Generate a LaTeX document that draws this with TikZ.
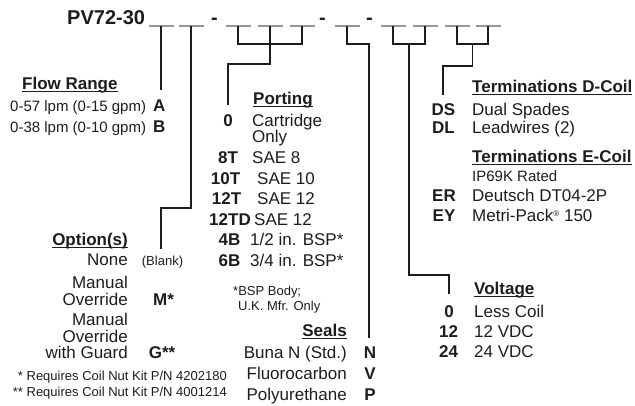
\documentclass[tikz,border=0pt]{standalone}
\usepackage{fontspec}
\setmainfont{Liberation Sans}
\definecolor{ink}{RGB}{30,28,28}
\definecolor{blankgray}{RGB}{150,150,150}
\newcommand{\ul}[1]{\setbox0\hbox{#1}\rlap{\rule[-2.8pt]{\wd0}{1.2pt}}\box0}
\newcommand{\regmark}{\raisebox{5.5pt}{\fontsize{8}{8}\selectfont ®}}
\tikzset{
  txt/.style={inner sep=0pt, text=ink, font=\fontsize{17}{20}\selectfont},
  code/.style={txt, font=\fontsize{17}{20}\selectfont\bfseries},
  head/.style={code},
  small/.style={txt, font=\fontsize{13}{15}\selectfont},
  mid/.style={txt, font=\fontsize{15}{17}\selectfont},
  wire/.style={draw=ink, line width=1.1pt},
  blank/.style={draw=blankgray, line width=1.2pt}
}
\begin{document}
\begin{tikzpicture}[x=1pt, y=-1pt]
\useasboundingbox (0,0) rectangle (635,405);

% part number
\node[code, font=\fontsize{20}{24}\selectfont\bfseries, anchor=base west] (pv) at (67,24) {PV72-30};
\node[code, font=\fontsize{20}{24}\selectfont\bfseries, anchor=base] (dash1) at (214.5,24) {-};
\node[code, font=\fontsize{20}{24}\selectfont\bfseries, anchor=base] (dash2) at (322.5,24) {-};
\node[code, font=\fontsize{20}{24}\selectfont\bfseries, anchor=base] (dash3) at (369.5,24) {-};
\foreach \i/\x in {1/161,2/191,3/238,4/270,5/302,6/347,7/393,8/425,9/457,10/488} {
  \coordinate (b\i) at (\x,26);
  \draw[blank] (\x-12.5,26) -- (\x+12.5,26);
}

% flow range
\node[head, anchor=base west] (flow) at (22,89) {\ul{Flow Range}};
\node[mid, anchor=base west] (flowa) at (10,111) {0-57 lpm (0-15 gpm)};
\node[code, anchor=base west] (A) at (153,111) {A};
\node[mid, anchor=base west] (flowb) at (10,132) {0-38 lpm (0-10 gpm)};
\node[code, anchor=base west] (B) at (153,132) {B};
\coordinate (flowend) at (161,90);
\draw[wire] (b1) -- (flowend);

% options
\node[head, anchor=base east] (opt) at (128,245) {\ul{Option(s)}};
\node[txt, anchor=base east] (none) at (128,265) {None};
\node[small, anchor=base] (blk) at (162.5,265) {(Blank)};
\node[txt, anchor=base east] (man1) at (128,288) {Manual};
\node[txt, anchor=base east] (ovr1) at (128,305) {Override};
\node[code, anchor=base] (M) at (163.5,305) {M*};
\node[txt, anchor=base east] (man2) at (128,325) {Manual};
\node[txt, anchor=base east] (ovr2) at (128,342) {Override};
\node[txt, anchor=base east] (guard) at (128,358) {with Guard};
\node[code, anchor=base] (G) at (162,358) {G**};
\node[small, anchor=base east] (note1) at (227,380) {* Requires Coil Nut Kit P/N 4202180};
\node[small, anchor=base east] (note2) at (227,396) {** Requires Coil Nut Kit P/N 4001214};
\coordinate (optbend) at (161,208);
\coordinate (optend) at (161,249);
\draw[wire] (b2) |- (optbend) -- (optend);

% porting
\node[head, anchor=base west] (port) at (253,104) {\ul{Porting}};
\node[code, anchor=base] (p0) at (228,126) {0};
\node[txt, anchor=base west] (cart) at (252,126) {Cartridge};
\node[txt, anchor=base west] (only) at (252,142) {Only};
\node[code, anchor=base] (p8T) at (228,163) {8T};
\node[txt, anchor=base west] (sae8) at (252,163) {SAE 8};
\node[code, anchor=base] (p10T) at (225.5,184) {10T};
\node[txt, anchor=base west] (sae10) at (257,184) {SAE 10};
\node[code, anchor=base] (p12T) at (226.5,204) {12T};
\node[txt, anchor=base west] (sae12) at (257,204) {SAE 12};
\node[code, anchor=base] (p12TD) at (230,225) {12TD};
\node[txt, anchor=base west] (sae12d) at (254,225) {SAE 12};
\node[code, anchor=base] (p4B) at (229.5,245.5) {4B};
\node[txt, anchor=base west] (bsp4) at (250,245.5) {1/2 in. BSP*};
\node[code, anchor=base] (p6B) at (229.5,266) {6B};
\node[txt, anchor=base west] (bsp6) at (250,266) {3/4 in. BSP*};
\node[small, anchor=base west] (bspa) at (233,295) {*BSP Body;};
\node[small, anchor=base west] (bspb) at (238,310) {U.K. Mfr. Only};
\coordinate (portend) at (228,105);
\draw[wire] (b3) -- ++(0,18) -| (b5);
\draw[wire] (b4) -- ++(0,38) -| (portend);

% seals
\node[head, anchor=base east] (seals) at (347,336) {\ul{Seals}};
\node[txt, anchor=base east] (buna) at (347,358) {Buna N (Std.)};
\node[code, anchor=base] (N) at (370,358) {N};
\node[txt, anchor=base east] (fluoro) at (347,379) {Fluorocarbon};
\node[code, anchor=base] (V) at (370,379) {V};
\node[txt, anchor=base east] (poly) at (347,400) {Polyurethane};
\node[code, anchor=base] (P) at (370,400) {P};
\coordinate (sealend) at (369,338);
\draw[wire] (b6) -- ++(0,18) -| (sealend);

% voltage
\node[head, anchor=base west] (volt) at (474,294) {\ul{Voltage}};
\node[code, anchor=base] (v0) at (449,317) {0};
\node[txt, anchor=base west] (less) at (474,317) {Less Coil};
\node[code, anchor=base] (v12) at (448.5,337) {12};
\node[txt, anchor=base west] (vdc12) at (474,337) {12 VDC};
\node[code, anchor=base] (v24) at (448.5,357) {24};
\node[txt, anchor=base west] (vdc24) at (474,357) {24 VDC};
\coordinate (voltfork) at (409,44);
\coordinate (voltend) at (449,294);
\draw[wire] (b7) -- ++(0,18) -| (b8);
\draw[wire] (voltfork) -- ++(0,231) -| (voltend);

% terminations
\node[head, anchor=base west] (termd) at (472,92) {\ul{Terminations D-Coil}};
\node[code, anchor=base] (DS) at (443.5,115) {DS};
\node[txt, anchor=base west] (spades) at (472,115) {Dual Spades};
\node[code, anchor=base] (DL) at (443.5,133) {DL};
\node[txt, anchor=base west] (leads) at (472,133) {Leadwires (2)};
\node[head, anchor=base west] (terme) at (472,162) {\ul{Terminations E-Coil}};
\node[mid, anchor=base west] (ip) at (472,181.5) {IP69K Rated};
\node[code, anchor=base] (ER) at (444,201.5) {ER};
\node[txt, anchor=base west] (deutsch) at (472,201.5) {Deutsch DT04-2P};
\node[code, anchor=base] (EY) at (444,221.5) {EY};
\node[txt, anchor=base west] (metri) at (472,221.5) {Metri-Pack\regmark{} 150};
\coordinate (termfork) at (472.5,44);
\coordinate (termend) at (443,95);
\draw[wire] (b9) -- ++(0,18) -| (b10);
\draw[wire] (termfork) -- ++(0,22) -| (termend);
\end{tikzpicture}
\end{document}
